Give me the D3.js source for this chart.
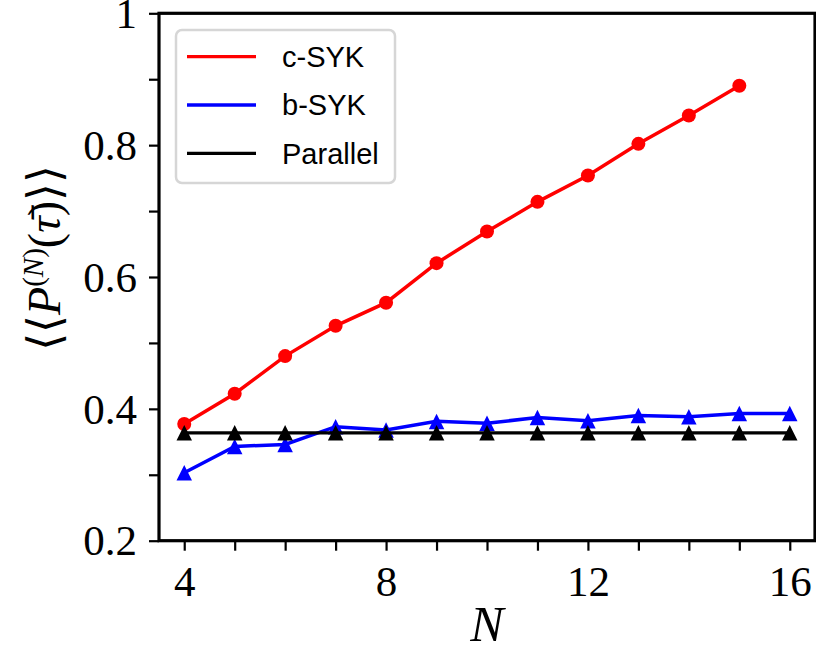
<!DOCTYPE html>
<html>
<head>
<meta charset="utf-8">
<script src="https://cdn.jsdelivr.net/npm/d3@7"></script>
<style>
  body { margin: 0; background: white; }
</style>
</head>
<body>
<script>
// data
const nC = [4, 5, 6, 7, 8, 9, 10, 11, 12, 13, 14, 15];
const cSYK = [0.377, 0.423, 0.480, 0.526, 0.561, 0.621, 0.669, 0.714, 0.754, 0.802, 0.845, 0.890];
const nB = [4, 5, 6, 7, 8, 9, 10, 11, 12, 13, 14, 15, 16];
const bSYK = [0.303, 0.343, 0.346, 0.373, 0.368, 0.381, 0.378, 0.387, 0.382, 0.390, 0.388, 0.393, 0.393];
const parallel = [0.3636, 0.3636, 0.3636, 0.3636, 0.3636, 0.3636, 0.3636, 0.3636, 0.3636, 0.3636, 0.3636, 0.3636, 0.3636];
const xTicks = [4, 5, 6, 7, 8, 9, 10, 11, 12, 13, 14, 15, 16];
const xLabeled = [4, 8, 12, 16];
const yTicks = [0.2, 0.3, 0.4, 0.5, 0.6, 0.7, 0.8, 0.9, 1.0];
const yLabeled = [0.2, 0.4, 0.6, 0.8, 1.0];
const legendNames = ["c-SYK", "b-SYK", "Parallel"];
const colors = ["#ff0000", "#0000ff", "#000000"];

const W = 816, H = 659;
const serif = "'Liberation Serif', 'DejaVu Serif', serif";
const sans = "'Liberation Sans', Arial, sans-serif";

const svg = d3.select("body").append("svg")
    .attr("width", W)
    .attr("height", H)

const x = d3.scaleLinear().domain([3.5, 16.5]).range([159, 815]);
const y = d3.scaleLinear().domain([0.2, 1.0]).range([540.7, 13.3]);

// axes
const xAxis = svg.append("g")
    .attr("transform", "translate(0,540.7)")
    .call(d3.axisBottom(x).tickValues(xTicks).tickSize(10).tickPadding(12)
        .tickFormat(d => xLabeled.includes(d) ? d : ""));
const yAxis = svg.append("g")
    .attr("transform", "translate(159,0)")
    .call(d3.axisLeft(y).tickValues(yTicks).tickSize(10).tickPadding(12)
        .tickFormat(d => {
            const r = Math.round(d * 10) / 10;
            if (!yLabeled.some(v => Math.abs(v - r) < 1e-9)) return "";
            return r === 1 ? "1" : r.toFixed(1);
        }));

[xAxis, yAxis].forEach(g => {
    g.select(".domain").remove();
    g.selectAll(".tick line").attr("stroke", "black").attr("stroke-width", 2.2);
    g.selectAll(".tick text")
        .style("font-family", serif)
        .style("font-size", "43px")
        .attr("fill", "black");
});
xAxis.selectAll(".tick text").attr("dy", "0.78em");
yAxis.selectAll(".tick text").attr("dy", "0.33em");

// frame
svg.append("rect")
    .attr("x", x(3.5))
    .attr("y", y(1.0))
    .attr("width", x(16.5) - x(3.5))
    .attr("height", y(0.2) - y(1.0))
    .attr("fill", "none")
    .attr("stroke", "black")
    .attr("stroke-width", 3.2)

// series
const line = d3.line().x(d => x(d[0])).y(d => y(d[1]));
// matplotlib-like '^' marker: width == height
const triType = {
    draw(ctx, size) {
        const h = Math.sqrt(size) / 2;
        ctx.moveTo(0, -h);
        ctx.lineTo(h, h);
        ctx.lineTo(-h, h);
        ctx.closePath();
    }
};
const tri = d3.symbol().type(triType).size(15.5 * 15.5);

const cData = nC.map((n, i) => [n, cSYK[i]]);
const bData = nB.map((n, i) => [n, bSYK[i]]);
const pData = nB.map((n, i) => [n, parallel[i]]);

svg.append("path").datum(cData)
    .attr("d", line).attr("fill", "none")
    .attr("stroke", colors[0]).attr("stroke-width", 3.5)
svg.selectAll(".c-dot").data(cData).join("circle")
    .attr("class", "c-dot")
    .attr("cx", d => x(d[0])).attr("cy", d => y(d[1]))
    .attr("r", 7).attr("fill", colors[0])

svg.append("path").datum(bData)
    .attr("d", line).attr("fill", "none")
    .attr("stroke", colors[1]).attr("stroke-width", 3.5)
svg.selectAll(".b-tri").data(bData).join("path")
    .attr("class", "b-tri")
    .attr("transform", d => `translate(${x(d[0])},${y(d[1])})`)
    .attr("d", tri).attr("fill", colors[1])

svg.append("path").datum(pData)
    .attr("d", line).attr("fill", "none")
    .attr("stroke", colors[2]).attr("stroke-width", 3.3)
svg.selectAll(".p-tri").data(pData).join("path")
    .attr("class", "p-tri")
    .attr("transform", d => `translate(${x(d[0])},${y(d[1])})`)
    .attr("d", tri).attr("fill", colors[2])

// legend
const legend = svg.append("g");
legend.append("rect")
    .attr("x", 176).attr("y", 30)
    .attr("width", 219).attr("height", 153)
    .attr("rx", 6)
    .attr("fill", "white").attr("fill-opacity", 0.8)
    .attr("stroke", "#d6d6d6").attr("stroke-width", 2.5)
legendNames.forEach((name, i) => {
    const ly = 56.7 + i * 48.3;
    legend.append("line")
        .attr("x1", 187).attr("x2", 256)
        .attr("y1", ly).attr("y2", ly)
        .attr("stroke", colors[i]).attr("stroke-width", 3.3)
    legend.append("text")
        .attr("x", 282).attr("y", ly)
        .attr("dy", "0.36em")
        .style("font-family", sans)
        .style("font-size", "29px")
        .text(name)
});

// axis titles
svg.append("text")
    .attr("x", x(10)).attr("y", 641)
    .attr("text-anchor", "middle")
    .style("font-family", serif)
    .style("font-size", "50px")
    .style("font-style", "italic")
    .text("N")

const yt = svg.append("text")
    .attr("transform", "translate(60,258) rotate(-90)")
    .attr("text-anchor", "middle")
    .style("font-family", serif)
    .style("font-size", "46px")
yt.append("tspan").text("\u27E8\u27E8");
yt.append("tspan").style("font-style", "italic").text("P");
yt.append("tspan").attr("dy", -17).style("font-size", "29px").text("(");
yt.append("tspan").style("font-size", "29px").style("font-style", "italic").text("N");
yt.append("tspan").style("font-size", "29px").text(")");
yt.append("tspan").attr("dy", 17).text("(");
yt.append("tspan").style("font-style", "italic").text("\u03C4\u0304");
yt.append("tspan").text(")\u27E9\u27E9");
</script>
</body>
</html>
